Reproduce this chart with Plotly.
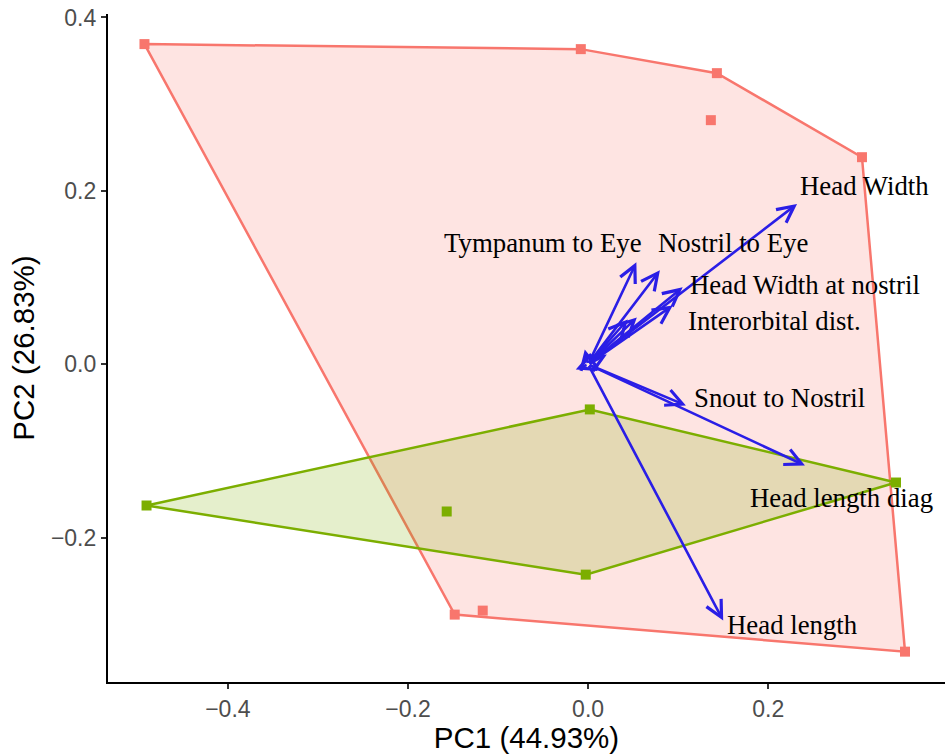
import plotly.graph_objects as go

# ---- data ----
red_x = [-0.4926, -0.0081, 0.1430, 0.1363, 0.3041, 0.3519, -0.1481, -0.1170]
red_y = [0.3693, 0.3635, 0.3358, 0.2816, 0.2389, -0.3312, -0.2885, -0.2839]
green_x = [-0.4903, 0.0019, 0.3419, -0.0026, -0.1570]
green_y = [-0.1627, -0.0519, -0.1362, -0.2424, -0.1696]

arrow_x = [0.2320, 0.0536, 0.0797, 0.1050, 0.0940, 0.1086, 0.2408, 0.1500,
           -0.0037, -0.0137, 0.0541, 0.0441, 0.0208]
arrow_y = [0.1850, 0.1177, 0.1085, 0.0889, 0.0680, -0.0473, -0.1166, -0.2954,
           0.0173, -0.0058, 0.0542, 0.0519, 0.0115]

label_text = ["Head Width", "Tympanum to Eye", "Nostril to Eye", "Head Width at nostril",
              "Interorbital dist.", "Snout to Nostril", "Head length diag", "Head length"]
label_x = [0.3074, -0.0503, 0.1608, 0.2408, 0.2074, 0.2130, 0.2819, 0.2274]
label_y = [0.2054, 0.1396, 0.1396, 0.0912, 0.0496, -0.0392, -0.1535, -0.3001]

x_ticks = [-0.4, -0.2, 0.0, 0.2]
y_ticks = [-0.2, 0.0, 0.2, 0.4]


def hull(xs, ys):
    pts = sorted(set(zip(xs, ys)))
    def cross(o, a, b):
        return (a[0]-o[0])*(b[1]-o[1]) - (a[1]-o[1])*(b[0]-o[0])
    lower, upper = [], []
    for p in pts:
        while len(lower) >= 2 and cross(lower[-2], lower[-1], p) <= 0:
            lower.pop()
        lower.append(p)
    for p in reversed(pts):
        while len(upper) >= 2 and cross(upper[-2], upper[-1], p) <= 0:
            upper.pop()
        upper.append(p)
    h = lower[:-1] + upper[:-1]
    h.append(h[0])
    return [p[0] for p in h], [p[1] for p in h]


RED = "#F8766D"
GREEN = "#7CAE00"
BLUE = "rgb(42,30,230)"

fig = go.Figure()
rhx, rhy = hull(red_x, red_y)
ghx, ghy = hull(green_x, green_y)
fig.add_trace(go.Scatter(x=rhx, y=rhy, mode="lines", fill="toself",
                         fillcolor="rgba(248,118,109,0.2)", line=dict(color=RED, width=2.5),
                         hoverinfo="skip"))
fig.add_trace(go.Scatter(x=ghx, y=ghy, mode="lines", fill="toself",
                         fillcolor="rgba(124,174,0,0.2)", line=dict(color=GREEN, width=2.5),
                         hoverinfo="skip"))
fig.add_trace(go.Scatter(x=red_x, y=red_y, mode="markers",
                         marker=dict(symbol="square", size=10, color=RED)))
fig.add_trace(go.Scatter(x=green_x, y=green_y, mode="markers",
                         marker=dict(symbol="square", size=10, color=GREEN)))

for ax_, ay_ in zip(arrow_x, arrow_y):
    fig.add_annotation(x=ax_, y=ay_, ax=0, ay=0, xref="x", yref="y", axref="x", ayref="y",
                       text="", showarrow=True, arrowhead=5, arrowsize=1.25, arrowwidth=2.6,
                       arrowcolor=BLUE, standoff=0, startstandoff=0)

for t, lx, ly in zip(label_text, label_x, label_y):
    fig.add_annotation(x=lx, y=ly, xref="x", yref="y", text=t, showarrow=False,
                       xanchor="center", yanchor="middle",
                       font=dict(family="Liberation Serif", size=26.8, color="black"))

axis_common = dict(showgrid=False, zeroline=False, showline=True, linecolor="black",
                   linewidth=2.2, ticks="outside", ticklen=5, tickwidth=2, tickcolor="#333333",
                   tickformat=".1f",
                   tickfont=dict(family="Liberation Sans", size=23, color="#4D4D4D"))
fig.update_xaxes(range=[-0.5331, 0.3963], tickvals=x_ticks,
                 title=dict(text="PC1 (44.93%)", font=dict(family="Liberation Sans", size=29.5, color="black"),
                            standoff=6),
                 **axis_common)
fig.update_yaxes(range=[-0.3662, 0.404], tickvals=y_ticks,
                 title=dict(text="PC2 (26.83%)", font=dict(family="Liberation Sans", size=29.5, color="black"),
                            standoff=8),
                 **axis_common)
fig.update_layout(width=945, height=754, showlegend=False,
                  plot_bgcolor="white", paper_bgcolor="white",
                  margin=dict(l=108, r=0, t=14, b=72))
fig.write_html("out.html")
